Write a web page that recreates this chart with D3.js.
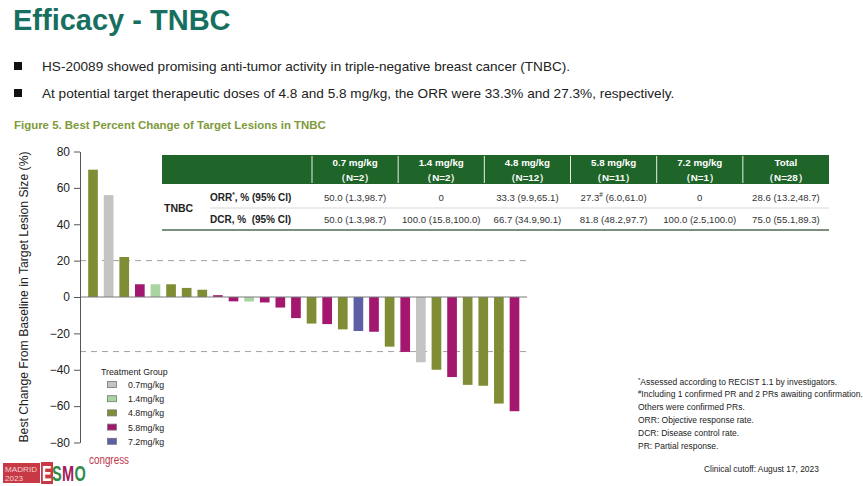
<!DOCTYPE html>
<html><head><meta charset="utf-8">
<script src="https://cdn.jsdelivr.net/npm/d3@7"></script>
<style>
body{margin:0;background:#fff;}
svg{display:block;font-family:"Liberation Sans",Arial,sans-serif;}
</style></head>
<body>
<svg id="c" width="863" height="486"></svg>
<script>
// ---- data ----
const patients = d3.range(1, 29);
const bestChange = [70, 56, 22, 7, 7, 7, 5, 4, 1, -2.4, -2.5, -3, -5.8, -11.6, -14.6, -14.9, -17.8, -18.7, -19.1, -27.3, -30.2, -35.9, -40, -44, -48.3, -48.8, -58.6, -62.8];
const doseGroup = ["4.8","0.7","4.8","5.8","1.4","4.8","4.8","4.8","5.8","5.8","1.4","5.8","5.8","5.8","4.8","5.8","4.8","7.2","5.8","4.8","5.8","0.7","4.8","5.8","4.8","4.8","4.8","5.8"];
const groups = ["0.7","1.4","4.8","5.8","7.2"];
const groupLabels = ["0.7mg/kg","1.4mg/kg","4.8mg/kg","5.8mg/kg","7.2mg/kg"];
const groupColors = ["#c3c3c3","#aad4a2","#808d35","#a3176f","#5d5fa6"];
const yTicks = [80, 60, 40, 20, 0, -20, -40, -60, -80];
const refLines = [20, -30];
const tableCols = ["0.7 mg/kg","1.4 mg/kg","4.8 mg/kg","5.8 mg/kg","7.2 mg/kg","Total"];
const tableN = ["（N=2）","（N=2）","（N=12）","（N=11）","（N=1）","（N=28）"];
const orrValues = ["50.0 (1.3,98.7)","0","33.3 (9.9,65.1)","27.3# (6.0,61.0)","0","28.6 (13.2,48.7)"];
const dcrValues = ["50.0 (1.3,98.7)","100.0 (15.8,100.0)","66.7 (34.9,90.1)","81.8 (48.2,97.7)","100.0 (2.5,100.0)","75.0 (55.1,89.3)"];
const bullets = ["HS-20089 showed promising anti-tumor activity in triple-negative breast cancer (TNBC).",
  "At potential target therapeutic doses of 4.8 and 5.8 mg/kg, the ORR were 33.3% and 27.3%, respectively."];
const footnotes = ["*Assessed according to RECIST 1.1 by investigators.","#Including 1 confirmed PR and 2 PRs awaiting confirmation.","Others were confirmed PRs.","ORR: Objective response rate.","DCR: Disease control rate.","PR: Partial response."];

const svg = d3.select("#c");
const color = d3.scaleOrdinal(groups, groupColors);

// title & text
svg.append("text").attr("x",13).attr("y",30).attr("font-size",29).attr("font-weight","bold")
  .attr("fill","#17705f").text("Efficacy - TNBC");
bullets.forEach((b,i)=>{
  const y = 71 + i*27;
  svg.append("rect").attr("x",14).attr("y",y-9).attr("width",8).attr("height",8).attr("fill","#111");
  svg.append("text").attr("x",42).attr("y",y).attr("font-size",13.6).attr("fill","#222").text(b);
});
svg.append("text").attr("x",14).attr("y",129).attr("font-size",11.45).attr("font-weight","bold")
  .attr("fill","#7e9a3a").text("Figure 5. Best Percent Change of Target Lesions in TNBC");

// scales
const x = d3.scaleBand().domain(patients).range([85.2, 522.3]).paddingInner(0.38).paddingOuter(0.19);
const y = d3.scaleLinear().domain([-80, 80]).range([442.5, 151.5]);
const xL = 80, xR = 527;

// ref lines
svg.selectAll(".ref").data(refLines).enter().append("line")
  .attr("x1",xL).attr("x2",xR).attr("y1",d=>y(d)).attr("y2",d=>y(d))
  .attr("stroke","#a0a0a0").attr("stroke-width",1).attr("stroke-dasharray","6,5");

// bars
svg.selectAll(".bar").data(patients).enter().append("rect")
  .attr("x",d=>x(d)).attr("width",x.bandwidth())
  .attr("y",(d,i)=>y(Math.max(0,bestChange[i])))
  .attr("height",(d,i)=>Math.abs(y(bestChange[i])-y(0)))
  .attr("fill",(d,i)=>color(doseGroup[i]));

// zero line
svg.append("line").attr("x1",xL).attr("x2",xR).attr("y1",y(0)).attr("y2",y(0))
  .attr("stroke","#7a7a7a").attr("stroke-width",1.2);

// y axis
const ax = svg.append("g").attr("transform",`translate(${xL},0)`)
  .call(d3.axisLeft(y).tickValues(yTicks).tickSize(6).tickSizeOuter(0).tickPadding(4));
ax.select(".domain").attr("stroke","#555");
ax.selectAll(".tick line").attr("stroke","#555");
ax.selectAll("text").attr("font-size",12).attr("fill","#222").attr("font-family","Liberation Sans, Arial, sans-serif");
svg.append("text").attr("transform","translate(28,297) rotate(-90)").attr("text-anchor","middle")
  .attr("font-size",12.2).attr("fill","#222").text("Best Change From Baseline in Target Lesion Size (%)");

// legend
const lg = svg.append("g");
lg.append("text").attr("x",101).attr("y",375).attr("font-size",8.8).attr("fill","#222").text("Treatment Group");
groups.forEach((g,i)=>{
  const yy = 384.5 + i*14.2;
  lg.append("rect").attr("x",107.5).attr("y",yy-3).attr("width",9).attr("height",6)
    .attr("fill",color(g)).attr("stroke","#777").attr("stroke-width",0.8);
  lg.append("text").attr("x",128).attr("y",yy+3.5).attr("font-size",8.8).attr("fill","#222").text(groupLabels[i]);
});

// table
const tb = svg.append("g");
const colX = d3.range(7).map(i=>312 + i*86.17);
tb.append("rect").attr("x",162).attr("y",155).attr("width",829-162).attr("height",29).attr("fill","#1f6529");
colX.slice(0,6).forEach(cx=>tb.append("line").attr("x1",cx).attr("x2",cx).attr("y1",156).attr("y2",183).attr("stroke","#e8efe8").attr("stroke-width",1));
tableCols.forEach((c,i)=>{
  const cx = (colX[i]+colX[i+1])/2;
  tb.append("text").attr("x",cx).attr("y",166).attr("text-anchor","middle").attr("font-size",9.8).attr("font-weight","bold").attr("fill","#fff").text(c);
  tb.append("text").attr("x",cx).attr("y",180.5).attr("text-anchor","middle").attr("font-size",9.8).attr("font-weight","bold").attr("fill","#fff").text(tableN[i]);
});
tb.append("line").attr("x1",210).attr("x2",829).attr("y1",208).attr("y2",208).attr("stroke","#d8d8d8").attr("stroke-width",1);
tb.append("line").attr("x1",162).attr("x2",829).attr("y1",230).attr("y2",230).attr("stroke","#4f6b52").attr("stroke-width",1.3);
tb.append("text").attr("x",164).attr("y",212).attr("font-size",10.5).attr("font-weight","bold").attr("fill","#222").text("TNBC");
const orrL = tb.append("text").attr("x",210).attr("y",201).attr("font-size",10).attr("font-weight","bold").attr("fill","#222");
orrL.append("tspan").text("ORR");
orrL.append("tspan").attr("dy",-4).attr("font-size",6.5).text("*");
orrL.append("tspan").attr("dy",4).text(", % (95% CI)");
tb.append("text").attr("x",210).attr("y",223).attr("font-size",10).attr("font-weight","bold").attr("fill","#222").attr("xml:space","preserve").text("DCR, %  (95% CI)");
[orrValues, dcrValues].forEach((row,r)=>{
  row.forEach((v,i)=>{
    const cx = (colX[i]+colX[i+1])/2;
    const t = tb.append("text").attr("x",cx).attr("y",r?223:201).attr("text-anchor","middle").attr("font-size",9.6).attr("fill","#333");
    if (v.includes("#")) {
      const [a,b] = v.split("#");
      t.append("tspan").text(a);
      t.append("tspan").attr("dy",-4).attr("font-size",6.5).text("#");
      t.append("tspan").attr("dy",4).text(b);
    } else t.text(v);
  });
});

// footnotes
footnotes.forEach((f,i)=>{
  const t = svg.append("text").attr("x",638).attr("y",384.5+i*12.8).attr("font-size",8.5).attr("fill","#222");
  if (i<2) { t.append("tspan").attr("font-size",6).attr("dy",-3).text(f[0]); t.append("tspan").attr("dy",3).text(f.slice(1)); }
  else t.text(f);
});
svg.append("text").attr("x",704).attr("y",472).attr("font-size",8.4).attr("fill","#222").text("Clinical cutoff: August 17, 2023");

// logo
const lo = svg.append("g");
lo.append("rect").attr("x",3).attr("y",463).attr("width",37).attr("height",20).attr("fill","#c73a45");
lo.append("text").attr("x",5).attr("y",472).attr("font-size",7.5).attr("fill","#f4d0d4").attr("textLength",32).attr("lengthAdjust","spacingAndGlyphs").text("MADRID");
lo.append("text").attr("x",5).attr("y",481).attr("font-size",7.5).attr("fill","#f4d0d4").attr("textLength",18).attr("lengthAdjust","spacingAndGlyphs").text("2023");
lo.append("rect").attr("x",41).attr("y",462).attr("width",12).attr("height",22).attr("fill","#c73a45");
const esmCols = ["#ffffff","#2e8a45","#a3195b","#2e8a45"];
const eg = lo.append("g").attr("transform","translate(42,481) scale(0.66,1)");
let ex = 0;
"ESMO".split("").forEach((ch,i)=>{
  const t = eg.append("text").attr("x",ex).attr("y",0).attr("font-size",22).attr("font-weight","bold").attr("fill",esmCols[i]).text(ch);
  ex += t.node().getComputedTextLength() + 0.5;
});
lo.append("text").attr("x",89).attr("y",464).attr("font-size",12).attr("fill","#c0374a").attr("textLength",40).attr("lengthAdjust","spacingAndGlyphs").text("congress");
</script>
</body></html>
